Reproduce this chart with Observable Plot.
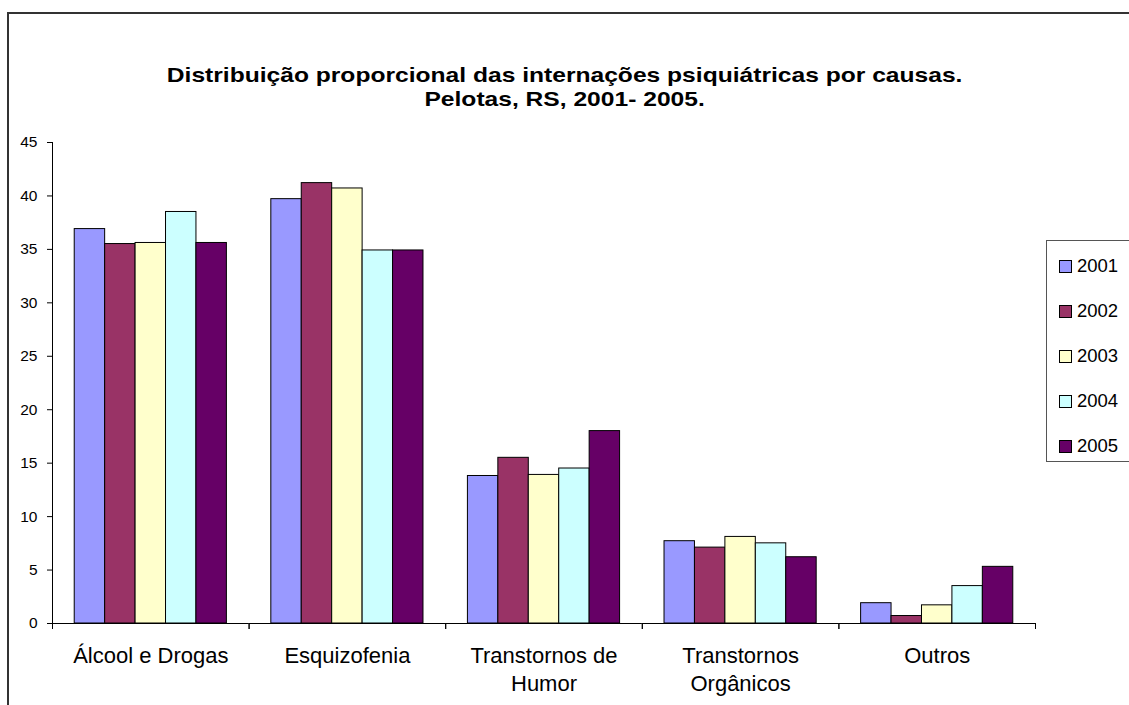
<!DOCTYPE html>
<html><head><meta charset="utf-8">
<script src="https://cdn.jsdelivr.net/npm/d3@7"></script>
<script src="https://cdn.jsdelivr.net/npm/@observablehq/plot@0.6"></script>
<style>
body{margin:0;overflow:hidden;background:#fff;font-family:"Liberation Sans",Arial,sans-serif;color:#000;}
#border{position:absolute;left:7px;top:12px;width:1300px;height:900px;border-left:2px solid #333;border-top:2px solid #333;}
#title{position:absolute;left:0;top:63px;width:1129px;text-align:center;font-weight:bold;font-size:20.5px;line-height:24px;transform:scaleX(1.2);transform-origin:564px 0;}
#chart{position:absolute;left:0;top:130px;}
#legend{position:absolute;left:1046px;top:240px;width:120px;height:220px;border:1px solid #555;background:#fff;}
.row{position:absolute;left:12px;height:20px;display:flex;align-items:center;font-size:18.5px;}
.sw{width:13px;height:13px;border:1px solid #000;margin-right:5px;box-sizing:border-box;}
</style></head>
<body>
<div id="border"></div>
<div id="title">Distribuição proporcional das internações psiquiátricas por causas.<br>Pelotas, RS, 2001- 2005.</div>
<div id="chart"></div>
<div id="legend"></div>
<script>
const categories = ["Álcool e Drogas","Esquizofenia","Transtornos de Humor","Transtornos Orgânicos","Outros"];
const tickLabels = ["Álcool e Drogas","Esquizofenia","Transtornos de\nHumor","Transtornos\nOrgânicos","Outros"];
const years = ["2001","2002","2003","2004","2005"];
const colors = ["#9999FF","#993366","#FFFFCC","#CCFFFF","#660066"];
const v2001 = [36.9, 39.7, 13.8, 7.7, 1.9];
const v2002 = [35.5, 41.2, 15.5, 7.1, 0.7];
const v2003 = [35.6, 40.7, 13.9, 8.1, 1.7];
const v2004 = [38.5, 34.9, 14.5, 7.5, 3.5];
const v2005 = [35.6, 34.9, 18.0, 6.2, 5.3];
const yTicks = [0,5,10,15,20,25,30,35,40,45];

const series = [v2001, v2002, v2003, v2004, v2005];
const data = [];
categories.forEach((c, i) => years.forEach((y, j) => data.push({cat: c, year: y, value: series[j][i]})));

const H = 575, MT = 12, MB = 82, FH = H - MT - MB;
const plot = Plot.plot({
  width: 1129, height: H, marginLeft: 52, marginRight: 94, marginTop: MT, marginBottom: MB,
  style: {fontFamily: "Liberation Sans, Arial, sans-serif", background: "transparent", overflow: "visible", color: "#000"},
  fx: {domain: categories, padding: 0, round: false, label: null, axis: null},
  x: {domain: years, paddingInner: 0, paddingOuter: 0.73, round: false, axis: null},
  y: {domain: [0, 45], label: null, axis: null},
  color: {domain: years, range: colors},
  marks: [
    Plot.barY(data, {fx: "cat", x: "year", y: "value", fill: "year", stroke: "#000", strokeWidth: 1}),
    Plot.ruleY([0], {stroke: "#000"}),
    Plot.frame({anchor: "left", facetAnchor: "left", stroke: "#000"}),
    Plot.frame({anchor: "left", insetTop: FH, insetBottom: -5, stroke: "#000"}),
    Plot.frame({anchor: "right", insetTop: FH, insetBottom: -5, stroke: "#000"}),
    Plot.axisY({ticks: yTicks, tickSize: 5, tickPadding: 10, fontSize: 15.5, label: null, tickFormat: d => String(d), stroke: "#000"}),
    Plot.axisFx({anchor: "bottom", tickSize: 0, tickPadding: 20, fontSize: 22, lineHeight: 1.25, label: null, tickFormat: d => tickLabels[categories.indexOf(d)]})
  ]
});
document.getElementById("chart").appendChild(plot);

const legend = document.getElementById("legend");
years.forEach((y, i) => {
  const row = document.createElement("div");
  row.className = "row";
  row.style.top = (15 + i * 45) + "px";
  const sw = document.createElement("div");
  sw.className = "sw";
  sw.style.background = colors[i];
  row.appendChild(sw);
  row.appendChild(document.createTextNode(y));
  legend.appendChild(row);
});
</script>
</body></html>
